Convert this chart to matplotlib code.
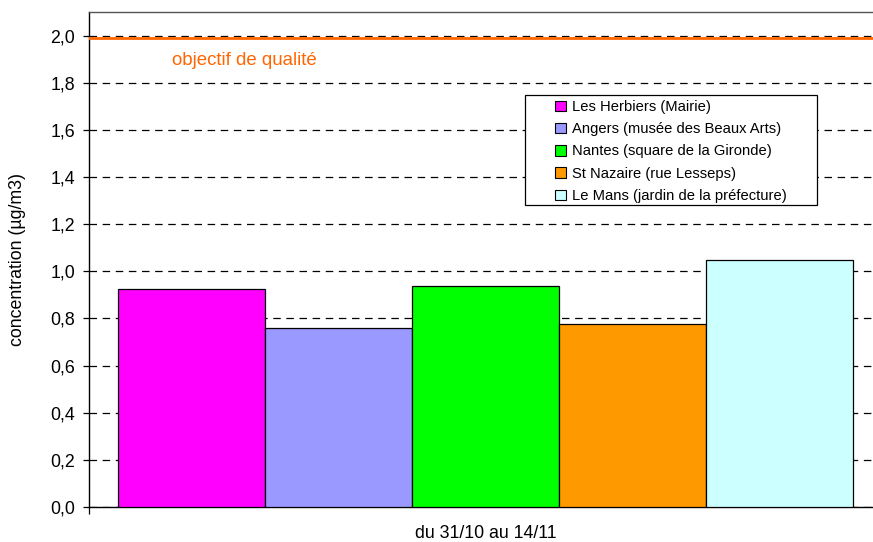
import matplotlib
matplotlib.use("Agg")
import matplotlib.pyplot as plt
from matplotlib.patches import Rectangle

plt.rcParams['font.family'] = ['Liberation Sans', 'DejaVu Sans']

stations = ["Les Herbiers (Mairie)", "Angers (musée des Beaux Arts)",
            "Nantes (square de la Gironde)", "St Nazaire (rue Lesseps)",
            "Le Mans (jardin de la préfecture)"]
values = [0.925, 0.758, 0.936, 0.775, 1.047]
colors = ["#FF00FF", "#9999FF", "#00FF00", "#FF9900", "#CCFFFF"]
period = "du 31/10 au 14/11"
objective = 1.99
objective_label = "objectif de qualité"
yticks = [0.0, 0.2, 0.4, 0.6, 0.8, 1.0, 1.2, 1.4, 1.6, 1.8, 2.0]

W, H = 873, 542
fig = plt.figure(figsize=(W / 100, H / 100), dpi=100)
ax = fig.add_axes([89 / W, 1 - 507 / H, 793 / W, 495 / H])

n = len(values)
positions = [i - (n - 1) / 2 for i in range(n)]
ax.bar(positions, values, width=1.0, color=colors, edgecolor="black",
       linewidth=0.9, zorder=3)

gap = 29 / 147
ax.set_xlim(positions[0] - 0.5 - gap, positions[-1] + 0.5 + gap)
ax.set_ylim(0, 2.1)
ax.set_yticks(yticks)
ax.set_yticklabels([f"{v:.1f}".replace(".", ",") for v in yticks], fontsize=12.8)
ax.yaxis.grid(True, color="black", linestyle=(0, (6, 4.5)), linewidth=0.9, zorder=1)
ax.set_axisbelow(True)
ax.tick_params(axis="y", direction="out", length=4, width=0.9, pad=6)
ax.set_xticks([positions[0] - 0.5 - gap, positions[-1] + 0.5 + gap])
ax.set_xticklabels(["", ""])
ax.tick_params(axis="x", direction="out", length=5, width=0.9)

fig.text(486 / W, 1 - 533 / H, period, fontsize=12.8, ha="center", va="center")
fig.text(18 / W, 1 - 259 / H, "concentration (µg/m3)", fontsize=12.8,
         ha="center", va="center", rotation=90)

for s in ["left", "bottom"]:
    ax.spines[s].set_color("black")
    ax.spines[s].set_linewidth(1.0)
ax.spines["top"].set_color("#555555")
ax.spines["top"].set_linewidth(1.0)
ax.spines["right"].set_visible(False)

ax.axhline(objective, color="#FF6600", linewidth=2.0, zorder=4)
ax.text(172 / W, 1 - 60 / H, objective_label, transform=fig.transFigure,
        color="#FF6600", fontsize=13.4, va="center", ha="left")

handles = [Rectangle((0, 0), 1, 1, facecolor=c, edgecolor="black", linewidth=0.8)
           for c in colors]
fig.legend(handles, stations, loc="upper left",
           bbox_to_anchor=(555 / W, 1 - 100 / H), frameon=False,
           fontsize=10.6, handlelength=0.72, handleheight=0.72,
           handletextpad=0.45, labelspacing=0.56, borderpad=0.0,
           borderaxespad=0.0)
fig.patches.append(Rectangle((525 / W, 1 - 205 / H), 292 / W, 110 / H,
                             transform=fig.transFigure, facecolor="white",
                             edgecolor="black", linewidth=0.9, zorder=0))

fig.savefig("out.png", dpi=100)
